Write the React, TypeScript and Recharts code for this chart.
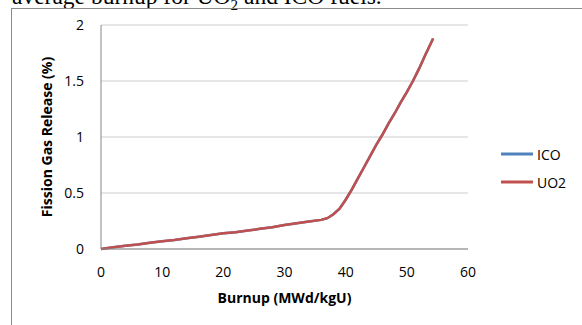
import React from "react";
import {
  LineChart,
  Line,
  XAxis,
  YAxis,
  CartesianGrid,
  Legend,
} from "recharts";

// burnup (MWd/kgU) and fission gas release (%)
const burnup = [
  0, 2, 4, 6, 8, 10, 12, 14, 16, 18, 20, 22, 24, 26, 28, 30, 32, 34, 36, 37,
  38, 39, 40, 41, 42, 43, 44, 45, 46, 47, 48, 49, 50, 51, 52, 53, 54.3,
];
const uo2 = [
  0, 0.015, 0.03, 0.04, 0.055, 0.07, 0.08, 0.095, 0.11, 0.125, 0.14, 0.15,
  0.165, 0.18, 0.195, 0.215, 0.23, 0.245, 0.26, 0.275, 0.31, 0.36, 0.44, 0.53,
  0.63, 0.73, 0.83, 0.93, 1.02, 1.12, 1.21, 1.31, 1.4, 1.5, 1.61, 1.73, 1.88,
];
// ICO lies exactly under the UO2 curve
const ico = [...uo2];

const xTicks = [0, 10, 20, 30, 40, 50, 60];
const yTicks = [0, 0.5, 1, 1.5, 2];

const COLORS = {
  ico: "#4f81bd",
  uo2: "#c0504d",
  axis: "#868686",
  grid: "#cdcdcd",
  text: "#000000",
};

const FONT = "'Open Sans', 'Noto Sans', sans-serif";

const data = burnup.map((b, i) => ({ burnup: b, ico: ico[i], uo2: uo2[i] }));

function LegendBox({ payload }: { payload?: any[] }) {
  return (
    <div style={{ fontFamily: FONT, fontSize: 14 }}>
      {(payload || []).map((p) => (
        <div
          key={p.value}
          style={{ display: "flex", alignItems: "center", height: 28 }}
        >
          <svg width={34} height={4} style={{ display: "block" }}>
            <line x1={0} y1={2} x2={32} y2={2} stroke={p.color} strokeWidth={3} />
          </svg>
          <span style={{ marginLeft: 2 }}>{p.value}</span>
        </div>
      ))}
    </div>
  );
}

export default function App() {
  return (
    <div
      style={{
        position: "fixed",
        left: 0,
        top: 0,
        width: 582,
        height: 325,
        overflow: "hidden",
        background: "#fff",
      }}
    >
      <div
        style={{
          position: "absolute",
          left: 12,
          top: -16,
          fontFamily: "'Liberation Serif', 'Times New Roman', serif",
          fontSize: 23.5,
          lineHeight: "24px",
          whiteSpace: "nowrap",
        }}
      >
        average burnup for UO<sub style={{ fontSize: 15 }}>2</sub> and ICO fuels.
      </div>
      <div
        style={{
          position: "absolute",
          left: 11,
          top: 8,
          width: 600,
          height: 340,
          border: "1.5px solid #8c8c8c",
        }}
      />
      <div style={{ position: "absolute", left: 12, top: 8 }}>
        <LineChart
          width={570}
          height={317}
          data={data}
          margin={{ top: 17, right: 114, bottom: 16, left: 0 }}
        >
          <CartesianGrid vertical={false} stroke={COLORS.grid} />
          <XAxis
            dataKey="burnup"
            type="number"
            domain={[0, 60]}
            ticks={xTicks}
            tickLine={false}
            axisLine={{ stroke: COLORS.axis }}
            tick={{ fill: COLORS.text, fontSize: 14, fontFamily: FONT }}
            tickMargin={12}
            height={60}
            label={{
              value: "Burnup (MWd/kgU)",
              position: "insideBottom",
              offset: 6,
              style: {
                fill: COLORS.text,
                fontSize: 14,
                fontWeight: 700,
                fontFamily: FONT,
              },
            }}
          />
          <YAxis
            type="number"
            domain={[0, 2]}
            ticks={yTicks}
            width={89}
            tickLine={false}
            axisLine={{ stroke: COLORS.axis }}
            tick={{ fill: COLORS.text, fontSize: 14, fontFamily: FONT }}
            tickMargin={11}
            label={{
              value: "Fission Gas Release (%)",
              angle: -90,
              position: "insideLeft",
              offset: 35,
              style: {
                textAnchor: "middle",
                fill: COLORS.text,
                fontSize: 14,
                fontWeight: 700,
                fontFamily: FONT,
              },
            }}
          />
          <Legend
            layout="horizontal"
            verticalAlign="middle"
            align="center"
            wrapperStyle={{ left: 489, top: 132, width: 80 }}
            content={(props: any) => <LegendBox payload={props.payload} />}
          />
          <Line
            dataKey="ico"
            name="ICO"
            stroke={COLORS.ico}
            strokeWidth={2.5}
            dot={false}
            isAnimationActive={false}
          />
          <Line
            dataKey="uo2"
            name="UO2"
            stroke={COLORS.uo2}
            strokeWidth={2.5}
            dot={false}
            isAnimationActive={false}
          />
        </LineChart>
      </div>
    </div>
  );
}
